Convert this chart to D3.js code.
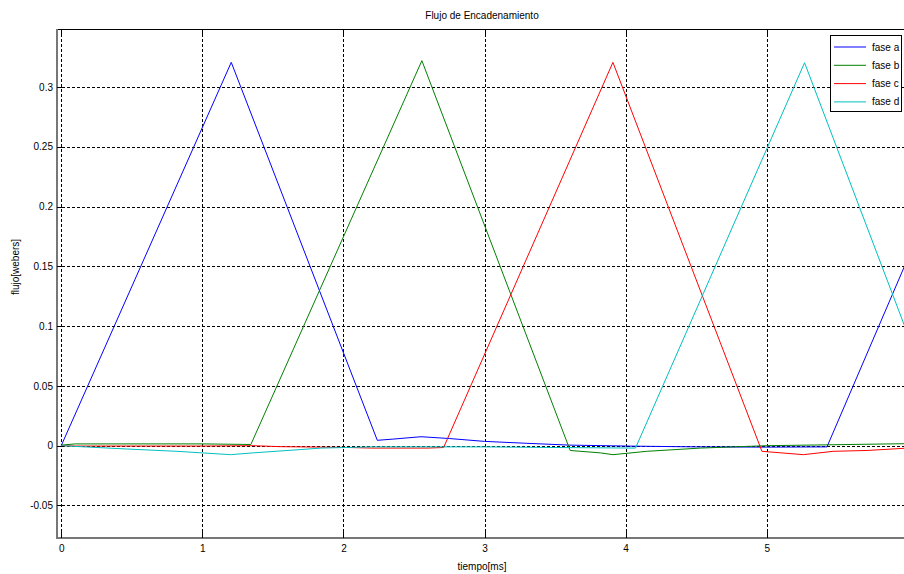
<!DOCTYPE html>
<html>
<head>
<meta charset="utf-8">
<script src="https://cdn.jsdelivr.net/npm/d3@7"></script>
<style>
html,body{margin:0;padding:0;background:#fff;overflow:hidden;}
text{font-family:"Liberation Sans",Arial,sans-serif;font-size:10px;fill:#000;}
</style>
</head>
<body>
<svg id="chart" width="904" height="574"></svg>
<script>
// ---- data ----
const title = "Flujo de Encadenamiento";
const xLabel = "tiempo[ms]";
const yLabel = "flujo[webers]";
const xTicks = [0, 1, 2, 3, 4, 5];
const yTicks = [-0.05, 0, 0.05, 0.1, 0.15, 0.2, 0.25, 0.3];
const yTickLabels = ["-0.05", "0", "0.05", "0.1", "0.15", "0.2", "0.25", "0.3"];
const seriesNames = ["fase a", "fase b", "fase c", "fase d"];
const seriesColors = ["#0000ff", "#008000", "#ff0000", "#00bfbf"];

const faseA_t = [0, 1.205, 2.24, 2.35, 2.55, 2.75, 3.0, 3.3, 3.6, 4.0, 4.5, 5.0, 5.427, 6.0];
const faseA_v = [0, 0.3206, 0.0045, 0.0055, 0.0075, 0.006, 0.0036, 0.002, 0.0005, -0.0003, -0.001, -0.0012, -0.001, 0.1566];

const faseB_t = [0, 0.1, 1.0, 1.344, 2.556, 3.607, 3.82, 3.91, 4.15, 4.53, 4.76, 5.0, 5.47, 6.0];
const faseB_v = [0.0005, 0.0015, 0.0015, 0.001, 0.322, -0.004, -0.006, -0.0075, -0.0047, -0.002, -0.001, 0, 0.0008, 0.0017];

const faseC_t = [0, 0.1, 1.0, 1.36, 1.55, 1.85, 2.0, 2.2, 2.6, 2.71, 3.91, 4.966, 5.26, 5.47, 5.71, 6.0];
const faseC_v = [0, -0.0003, -0.0003, 0, -0.0008, -0.0012, -0.0014, -0.002, -0.002, -0.0015, 0.3206, -0.0047, -0.0075, -0.0047, -0.004, -0.002];

const faseD_t = [0, 0.47, 0.82, 1.2, 1.36, 1.69, 1.84, 2.2, 3.0, 3.5, 4.07, 5.268, 6.0];
const faseD_v = [0, -0.0028, -0.0047, -0.0075, -0.006, -0.0033, -0.002, -0.001, -0.001, -0.0015, -0.002, 0.3203, 0.093];

const seriesT = [faseA_t, faseB_t, faseC_t, faseD_t];
const seriesV = [faseA_v, faseB_v, faseC_v, faseD_v];

// ---- layout ----
const svg = d3.select("#chart");
const L = 57, T = 29, B = 538;
const x = d3.scaleLinear().domain([-0.03, 6]).range([L, L + 6.03 * 141.1]);
const y = d3.scaleLinear().domain([-0.0772, 0.3485]).range([B, T]);
const R = x(6);

svg.append("rect").attr("width", 904).attr("height", 574).attr("fill", "#fff");
svg.append("defs").append("clipPath").attr("id", "clip")
  .append("rect").attr("x", L).attr("y", T).attr("width", R - L).attr("height", B - T);

// grid
const grid = svg.append("g").attr("stroke", "#000").attr("stroke-width", 1)
  .attr("stroke-dasharray", "3,2").attr("shape-rendering", "crispEdges");
xTicks.forEach(t => {
  grid.append("line").attr("x1", Math.round(x(t)) + 0.5).attr("x2", Math.round(x(t)) + 0.5)
    .attr("y1", T).attr("y2", B);
});
yTicks.forEach(t => {
  grid.append("line").attr("y1", Math.round(y(t)) + 0.5).attr("y2", Math.round(y(t)) + 0.5)
    .attr("x1", L).attr("x2", R);
});

// series
const lineGen = d3.line().x(d => x(d[0])).y(d => y(d[1]));
const plot = svg.append("g").attr("clip-path", "url(#clip)");
seriesT.forEach((ts, i) => {
  const pts = ts.map((t, j) => [t, seriesV[i][j]]);
  plot.append("path").datum(pts).attr("d", lineGen)
    .attr("fill", "none").attr("stroke", seriesColors[i]).attr("stroke-width", 1);
});

// axes frame
svg.append("line").attr("x1", L).attr("x2", R).attr("y1", T + 0.5).attr("y2", T + 0.5)
  .attr("stroke", "#000").attr("stroke-width", 1);
svg.append("line").attr("x1", L).attr("x2", L).attr("y1", T).attr("y2", B + 1)
  .attr("stroke", "#777").attr("stroke-width", 2);
svg.append("line").attr("x1", L - 1).attr("x2", R).attr("y1", B).attr("y2", B)
  .attr("stroke", "#777").attr("stroke-width", 2);

// ticks (inward)
const tk = svg.append("g").attr("stroke", "#000").attr("stroke-width", 1).attr("shape-rendering", "crispEdges");
xTicks.forEach(t => {
  const xx = Math.round(x(t)) + 0.5;
  tk.append("line").attr("x1", xx).attr("x2", xx).attr("y1", B - 7).attr("y2", B);
  tk.append("line").attr("x1", xx).attr("x2", xx).attr("y1", T).attr("y2", T + 7);
});
yTicks.forEach(t => {
  const yy = Math.round(y(t)) + 0.5;
  tk.append("line").attr("x1", L).attr("x2", L + 7).attr("y1", yy).attr("y2", yy);
});

// axes via d3 for labels
const xAxis = d3.axisBottom(x).tickValues(xTicks).tickSize(0).tickPadding(0).tickFormat(d3.format("d"));
const gx = svg.append("g").attr("transform", `translate(0,${B + 7})`).call(xAxis);
gx.select(".domain").remove();
gx.selectAll("text").attr("font-size", 10).attr("font-family", null).attr("fill", "#000");

const yAxis = d3.axisLeft(y).tickValues(yTicks).tickSize(0).tickPadding(0)
  .tickFormat((d, i) => yTickLabels[i]);
const gy = svg.append("g").attr("transform", `translate(${L - 4},0)`).call(yAxis);
gy.select(".domain").remove();
gy.selectAll("text").attr("font-size", 10).attr("font-family", null).attr("fill", "#000");

// titles
svg.append("text").attr("x", 482).attr("y", 19).attr("text-anchor", "middle").text(title);
svg.append("text").attr("x", 482).attr("y", 570).attr("text-anchor", "middle").text(xLabel);
svg.append("text").attr("transform", "translate(19,267) rotate(-90)").attr("text-anchor", "middle").text(yLabel);

// legend
const lg = svg.append("g");
lg.append("rect").attr("x", 830.5).attr("y", 35.5).attr("width", 71).attr("height", 76)
  .attr("fill", "#fff").attr("stroke", "#000").attr("stroke-width", 1);
seriesNames.forEach((n, i) => {
  const yy = 47 + i * 18.3;
  lg.append("line").attr("x1", 834).attr("x2", 866).attr("y1", yy).attr("y2", yy)
    .attr("stroke", seriesColors[i]).attr("stroke-width", 1);
  lg.append("text").attr("x", 872).attr("y", yy + 3.5).text(n);
});
</script>
</body>
</html>
